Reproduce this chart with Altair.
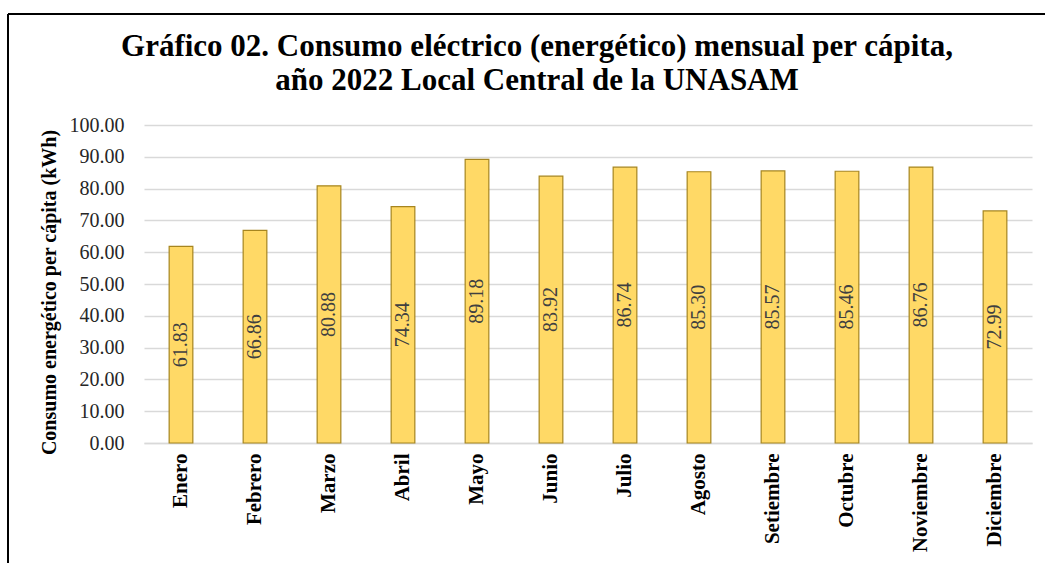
import altair as alt
import pandas as pd

# Monthly per-capita electricity use, 2022
meses = ["Enero", "Febrero", "Marzo", "Abril", "Mayo", "Junio", "Julio",
         "Agosto", "Setiembre", "Octubre", "Noviembre", "Diciembre"]
consumo = [61.83, 66.86, 80.88, 74.34, 89.18, 83.92, 86.74,
           85.30, 85.57, 85.46, 86.76, 72.99]
titulo = ["Gráfico 02. Consumo eléctrico (energético) mensual per cápita,",
          "año 2022 Local Central de la UNASAM"]

df = pd.DataFrame({"mes": meses, "kwh": consumo})

FONT = "Liberation Serif"
W, H = 888, 318
LEFT, TOP = 144, 125
Y_TITLE = "Consumo energético per cápita (kWh)"

x_axis = alt.Axis(labelAngle=-90, labelAlign="right", labelBaseline="middle",
                  labelFont=FONT, labelFontSize=21, labelFontWeight="bold",
                  labelColor="#000000", labelPadding=10, ticks=False,
                  labelOverlap=False,
                  domainColor="#D9D9D9", domainWidth=1.5, grid=False)
x_scale = alt.Scale(paddingInner=0.68, paddingOuter=0.34)

y_axis = alt.Axis(values=list(range(0, 101, 10)), format=".2f",
                  labelFont=FONT, labelFontSize=20, labelColor="#262626",
                  labelPadding=20, ticks=False, domain=False,
                  labelOverlap=False,
                  gridColor="#D9D9D9", gridWidth=1.5,
                  titleFont=FONT, titleFontSize=20, titleFontWeight="bold",
                  titleColor="#000000", titlePadding=10, titleY=167)
y_scale = alt.Scale(domain=[0, 100], nice=False)

bars = alt.Chart(df).mark_bar(
    color="#FFD966", stroke="#A6851F", strokeWidth=1.2
).encode(
    x=alt.X("mes:N", sort=meses, title=None, scale=x_scale, axis=x_axis),
    y=alt.Y("kwh:Q", title=Y_TITLE, scale=y_scale, axis=y_axis),
)

# value labels, rotated and centred halfway up each bar
labels = alt.Chart(df).transform_calculate(
    mitad="datum.kwh / 2"
).mark_text(
    angle=270, font=FONT, fontSize=20, color="#404040",
    align="center", baseline="middle"
).encode(
    x=alt.X("mes:N", sort=meses, title=None, scale=x_scale, axis=x_axis),
    y=alt.Y("mitad:Q", title=Y_TITLE, scale=y_scale, axis=y_axis),
    text=alt.Text("kwh:Q", format=".2f"),
)

# two-line heading drawn above the plot
heading = [
    alt.Chart(pd.DataFrame({"t": [line]})).mark_text(
        font=FONT, fontSize=31, fontWeight="bold", color="#000000",
        align="center", baseline="alphabetic"
    ).encode(text="t:N", x=alt.value(537 - LEFT), y=alt.value(base - TOP))
    for line, base in zip(titulo, [56, 90])
]

# outer frame: left and top edges
marco = pd.DataFrame({"k": [0]})
frame_left = alt.Chart(marco).mark_rule(color="#000000", strokeWidth=2).encode(
    x=alt.value(8 - LEFT), y=alt.value(14 - TOP), y2=alt.value(600)
)
frame_top = alt.Chart(marco).mark_rule(color="#000000", strokeWidth=2).encode(
    x=alt.value(8 - LEFT), x2=alt.value(1100), y=alt.value(14 - TOP)
)

chart = alt.layer(bars, labels, *heading, frame_left, frame_top).properties(
    width=W, height=H,
    background="#FFFFFF",
    autosize=alt.AutoSizeParams(type="none"),
    padding={"left": LEFT, "top": TOP, "right": 1045 - LEFT - W, "bottom": 563 - TOP - H},
).configure_axis(labelOverlap=False).configure_view(stroke=None, strokeWidth=0)

chart.save("out.html", embed_options={"renderer": "svg", "actions": False})
